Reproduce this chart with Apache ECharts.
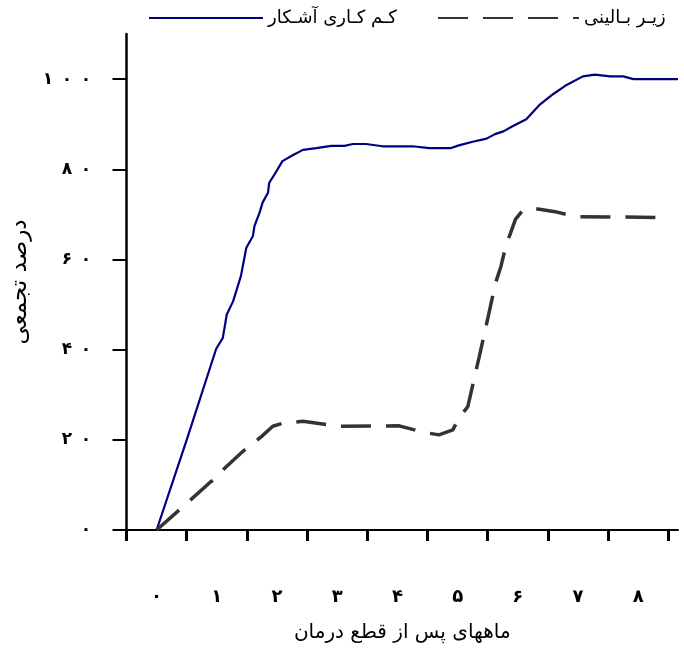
<!DOCTYPE html>
<html><head><meta charset="utf-8">
<script src="https://cdn.jsdelivr.net/npm/echarts@6/dist/echarts.min.js"></script>
<style>html,body{margin:0;padding:0;background:#fff}#c{width:684px;height:652px}</style>
</head><body><div id="c"></div>
<script>
// Tick labels
const xTickLabels = ['۰','۱','۲','۳','۴','۵','۶','۷','۸'];
const yTickLabels = ['۰','۲۰','۴۰','۶۰','۸۰','۱۰۰'];
const yTickValues = [0, 20, 40, 60, 80, 100];
const xLabelValues = [0, 1, 2, 3, 4, 5, 6, 7, 8];
const xTickValues = [-0.5, 0.5, 1.5, 2.5, 3.5, 4.5, 5.5, 6.5, 7.5, 8.5];

// Series names
const overtName = 'کـم کـاری آشـکار';
const subName = 'زیـر بـالینی';

// Overt hypothyroidism (solid navy)
const overtMonths = [0, 0.5, 0.99, 1.10, 1.165, 1.27, 1.40, 1.49, 1.60, 1.625, 1.71, 1.76, 1.85, 1.87, 1.96, 2.09, 2.26, 2.43, 2.65, 2.90, 3.12, 3.26, 3.48, 3.75, 4.25, 4.53, 4.89, 5.02, 5.25, 5.48, 5.62, 5.76, 5.92, 6.14, 6.37, 6.59, 6.81, 7.08, 7.28, 7.53, 7.75, 7.92, 8.66];
const overtPercent = [0, 20, 40.2, 42.6, 47.8, 50.7, 56.3, 62.6, 65.2, 67.4, 70.4, 72.6, 74.8, 77.0, 78.9, 81.8, 83.1, 84.3, 84.7, 85.2, 85.2, 85.6, 85.6, 85.1, 85.1, 84.7, 84.7, 85.3, 86.1, 86.8, 87.8, 88.4, 89.6, 91.1, 94.4, 96.7, 98.7, 100.6, 101.0, 100.6, 100.6, 100.0, 100.0];

// Subclinical (dashed grey)
const subMonths = [0, 0.44, 0.90, 1.02, 1.13, 1.43, 1.74, 1.93, 2.10, 2.43, 2.70, 3.03, 4.03, 4.42, 4.69, 4.92, 5.02, 5.17, 5.27, 5.36, 5.52, 5.63, 5.72, 5.80, 5.88, 5.96, 6.07, 6.29, 6.62, 6.96, 8.45];
const subPercent = [0, 5.2, 10.7, 11.9, 13.7, 17.4, 20.7, 23.0, 23.7, 24.1, 23.6, 23.0, 23.1, 21.7, 21.1, 22.2, 24.8, 27.4, 33.3, 38.5, 48.1, 54.8, 58.5, 63.0, 65.9, 68.9, 70.7, 71.3, 70.6, 69.5, 69.3];

const FONT = 'DejaVu Sans';
const chart = echarts.init(document.getElementById('c'), null, {renderer: 'canvas'});
const yMap = {};
yTickValues.forEach((v, i) => yMap[v] = yTickLabels[i]);

const legendCommon = {
  itemHeight: 14, padding: 0,
  itemStyle: {opacity: 0},
  textStyle: {fontFamily: FONT, fontSize: 18, color: '#000'}
};

chart.setOption({
  animation: false,
  backgroundColor: '#ffffff',
  textStyle: {fontFamily: FONT},
  legend: [
    Object.assign({data: [overtName], left: 148, top: 9, itemWidth: 114}, legendCommon),
    Object.assign({data: [subName], left: 437, top: 9, itemWidth: 141}, legendCommon)
  ],
  grid: {left: 126.5, right: 6, top: 34, bottom: 122, containLabel: false},
  xAxis: {
    type: 'value', min: -0.5, max: 8.66,
    name: 'ماههای پس از قطع درمان', nameLocation: 'middle', nameGap: 93,
    nameTextStyle: {fontFamily: FONT, fontSize: 20, color: '#000'},
    axisLine: {show: true, onZero: false, lineStyle: {color: '#000', width: 2}},
    axisTick: {show: true, inside: false, length: 11, customValues: xTickValues, lineStyle: {color: '#000', width: 3}},
    axisLabel: {show: true, customValues: xLabelValues, margin: 58, fontFamily: FONT, fontSize: 18, fontWeight: 'bold', color: '#000',
      formatter: v => xTickLabels[Math.round(v)]},
    splitLine: {show: false}
  },
  yAxis: {
    type: 'value', min: 0, max: 110,
    name: 'درصد تجمعی', nameLocation: 'middle', nameGap: 80, nameRotate: 90,
    nameTextStyle: {fontFamily: FONT, fontSize: 23, color: '#000'},
    axisLine: {show: true, onZero: false, lineStyle: {color: '#000', width: 2.5}},
    axisTick: {show: true, inside: false, length: 14, customValues: yTickValues, lineStyle: {color: '#000', width: 2}},
    axisLabel: {show: true, customValues: yTickValues, margin: 31, color: '#000',
      formatter: v => yMap[v].split('').map(ch => '{d|' + ch + '}').join(''),
      rich: {d: {width: 19, align: 'center', fontFamily: FONT, fontSize: 17, fontWeight: 'bold', color: '#000'}}},
    splitLine: {show: false}
  },
  series: [
    {
      name: overtName, type: 'line', symbol: 'none', smooth: false,
      data: overtMonths.map((m, i) => [m, overtPercent[i]]),
      lineStyle: {color: '#000080', width: 2.2},
      itemStyle: {color: '#000080'}
    },
    {
      name: subName, type: 'line', symbol: 'none', smooth: false,
      data: subMonths.map((m, i) => [m, subPercent[i]]),
      lineStyle: {color: '#333333', width: 3.5, type: [30, 15], cap: 'butt'},
      itemStyle: {color: '#333333'}
    }
  ]
});
</script>
</body></html>
